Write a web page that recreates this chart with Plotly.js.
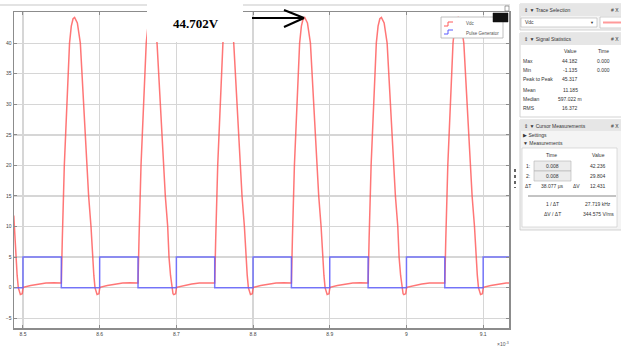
<!DOCTYPE html>
<html><head><meta charset="utf-8">
<script src="https://cdn.plot.ly/plotly-3.0.1.min.js"></script>
<style>html,body{margin:0;padding:0;background:#fff;}#chart{width:621px;height:350px;}</style>
</head><body><div id="chart"></div>
<script>
// ---- data (time in ms ×10^-3 s units, value in V) ----
const redTime = [
 8.4880, 8.4904, 8.4924, 8.4939, 8.4956, 8.4966, 8.4990, 8.5002, 8.5100, 8.5200, 8.5300, 8.5400,
 8.5500, 8.5513, 8.5526, 8.5539, 8.5556, 8.5572, 8.5587, 8.5607, 8.5630, 8.5653, 8.5673, 8.5709, 8.5748, 8.5770, 8.5791, 8.5806, 8.5830, 8.5856, 8.5887, 8.5904, 8.5924, 8.5939, 8.5956, 8.5966, 8.5990, 8.6002, 8.6100, 8.6200, 8.6300, 8.6400,
 8.6500, 8.6513, 8.6526, 8.6539, 8.6556, 8.6572, 8.6587, 8.6607, 8.6630, 8.6653, 8.6673, 8.6709, 8.6748, 8.6770, 8.6791, 8.6806, 8.6830, 8.6856, 8.6887, 8.6904, 8.6924, 8.6939, 8.6956, 8.6966, 8.6990, 8.7002, 8.7100, 8.7200, 8.7300, 8.7400,
 8.7500, 8.7513, 8.7526, 8.7539, 8.7556, 8.7572, 8.7587, 8.7607, 8.7630, 8.7653, 8.7673, 8.7709, 8.7748, 8.7770, 8.7791, 8.7806, 8.7830, 8.7856, 8.7887, 8.7904, 8.7924, 8.7939, 8.7956, 8.7966, 8.7990, 8.8002, 8.8100, 8.8200, 8.8300, 8.8400,
 8.8500, 8.8513, 8.8526, 8.8539, 8.8556, 8.8572, 8.8587, 8.8607, 8.8630, 8.8653, 8.8673, 8.8709, 8.8748, 8.8770, 8.8791, 8.8806, 8.8830, 8.8856, 8.8887, 8.8904, 8.8924, 8.8939, 8.8956, 8.8966, 8.8990, 8.9002, 8.9100, 8.9200, 8.9300, 8.9400,
 8.9500, 8.9513, 8.9526, 8.9539, 8.9556, 8.9572, 8.9587, 8.9607, 8.9630, 8.9653, 8.9673, 8.9709, 8.9748, 8.9770, 8.9791, 8.9806, 8.9830, 8.9856, 8.9887, 8.9904, 8.9924, 8.9939, 8.9956, 8.9966, 8.9990, 9.0002, 9.0100, 9.0200, 9.0300, 9.0400,
 9.0500, 9.0513, 9.0526, 9.0539, 9.0556, 9.0572, 9.0587, 9.0607, 9.0630, 9.0653, 9.0673, 9.0709, 9.0748, 9.0770, 9.0791, 9.0806, 9.0830, 9.0856, 9.0887, 9.0904, 9.0924, 9.0939, 9.0956, 9.0966, 9.0990, 9.1002, 9.1100, 9.1200, 9.1300, 9.1350
];
const redVdc = [
 11.8, 5, 2, 0, -1, -1.13, -1, 0.05, 0.35, 0.6, 0.75, 0.8,
 0.75, 8, 15, 20, 25, 30, 35, 40, 42.8, 44, 44.2, 43.3, 40, 35, 30, 25, 20, 15, 10, 5, 2, 0, -1, -1.13, -1, 0.05, 0.35, 0.6, 0.75, 0.8,
 0.75, 8, 15, 20, 25, 30, 35, 40, 42.8, 44, 44.2, 43.3, 40, 35, 30, 25, 20, 15, 10, 5, 2, 0, -1, -1.13, -1, 0.05, 0.35, 0.6, 0.75, 0.8,
 0.75, 8, 15, 20, 25, 30, 35, 40, 42.8, 44, 44.2, 43.3, 40, 35, 30, 25, 20, 15, 10, 5, 2, 0, -1, -1.13, -1, 0.05, 0.35, 0.6, 0.75, 0.8,
 0.75, 8, 15, 20, 25, 30, 35, 40, 42.8, 44, 44.2, 43.3, 40, 35, 30, 25, 20, 15, 10, 5, 2, 0, -1, -1.13, -1, 0.05, 0.35, 0.6, 0.75, 0.8,
 0.75, 8, 15, 20, 25, 30, 35, 40, 42.8, 44, 44.2, 43.3, 40, 35, 30, 25, 20, 15, 10, 5, 2, 0, -1, -1.13, -1, 0.05, 0.35, 0.6, 0.75, 0.8,
 0.75, 8, 15, 20, 25, 30, 35, 40, 42.8, 44, 44.2, 43.3, 40, 35, 30, 25, 20, 15, 10, 5, 2, 0, -1, -1.13, -1, 0.05, 0.35, 0.6, 0.75, 0.78
];
const pulseTime = [8.488, 8.50, 8.55, 8.60, 8.65, 8.70, 8.75, 8.80, 8.85, 8.90, 8.95, 9.00, 9.05, 9.10, 9.135];
const pulseLevel = [0, 5, 0, 5, 0, 5, 0, 5, 0, 5, 0, 5, 0, 5, 5];

const xTickVals = [8.5, 8.6, 8.7, 8.8, 8.9, 9.0, 9.1];
const xTickText = ['8.5', '8.6', '8.7', '8.8', '8.9', '9', '9.1'];
const yTickVals = [-5, 0, 5, 10, 15, 20, 25, 30, 35, 40];

const seriesNames = ['Vdc', 'Pulse Generator'];
const peakLabel = '44.702V';
const statRows = [['Max', '44.182', '0.000'], ['Min', '-1.135', '0.000'], ['Peak to Peak', '45.317', ''],
                  ['Mean', '11.185', ''], ['Median', '597.022 m', ''], ['RMS', '16.372', '']];

// ---- layout helpers (pixel -> paper) ----
const L = 14, T = 12, W = 495, H = 316;
const X = p => (p - L) / W;
const Y = p => (T + H - p) / H;
const shapes = [], ann = [];
function rect(x0, y0, x1, y1, fill, line, lw) {
  shapes.push({type: 'rect', xref: 'paper', yref: 'paper', x0: X(x0), x1: X(x1), y0: Y(y1), y1: Y(y0),
    fillcolor: fill, line: {color: line || 'rgba(0,0,0,0)', width: lw === undefined ? 1 : lw}, layer: 'above'});
}
function seg(x0, y0, x1, y1, color, w, dash) {
  shapes.push({type: 'line', xref: 'paper', yref: 'paper', x0: X(x0), x1: X(x1), y0: Y(y0), y1: Y(y1),
    line: {color: color, width: w, dash: dash || 'solid'}, layer: 'above'});
}
function txt(x, y, s, opts) {
  opts = opts || {};
  ann.push({xref: 'paper', yref: 'paper', x: X(x), y: Y(y), text: s, showarrow: false,
    xanchor: opts.anchor || 'left', yanchor: 'middle',
    font: {family: opts.family || 'Liberation Sans, Arial, sans-serif', size: opts.size || 5, color: opts.color || '#333'}});
}

// top frame line
seg(0, 5, 510, 5, '#c8c8c8', 1.2);
// peak annotation box + arrow
rect(147, -2, 243, 42, '#ffffff', null, 0);
txt(196, 24, '<b>' + peakLabel + '</b>', {anchor: 'center', family: 'Liberation Serif, Times New Roman, serif', size: 13, color: '#000'});
seg(252, 18, 304, 18, '#000', 2);
seg(304, 18, 284, 10, '#000', 2);
seg(304, 18, 284, 27, '#000', 2);

// legend
rect(441, 17, 503, 38, '#ffffff', '#b0b0b0', 0.8);
shapes.push({type: 'path', xref: 'paper', yref: 'paper', layer: 'above', line: {color: '#ff5a5a', width: 1},
  path: `M${X(444)},${Y(26)} L${X(448)},${Y(26)} L${X(448)},${Y(22)} L${X(453)},${Y(22)}`});
shapes.push({type: 'path', xref: 'paper', yref: 'paper', layer: 'above', line: {color: '#5a5aff', width: 1},
  path: `M${X(444)},${Y(34)} L${X(448)},${Y(34)} L${X(448)},${Y(30)} L${X(453)},${Y(30)}`});
txt(464, 24, seriesNames[0], {size: 4.5, color: '#555'});
txt(464, 33, seriesNames[1], {size: 4.5, color: '#555'});
rect(493, 13, 508, 22, '#111111', '#111', 0.5);
rect(505, 6, 509, 11, '#ffffff', '#666', 0.6);

// resize handle dots
seg(515, 169, 515, 188, '#333', 1.5, 'dot');

// ---- side panels ----
const PX0 = 520, PX1 = 630;
// Trace Selection
rect(PX0, 4, PX1, 30, '#f4f4f4', '#c8c8c8', 0.8);
rect(PX0, 4, PX1, 16, '#e6e6e6', null, 0);
txt(522, 10, '⇕ ▼ Trace Selection', {size: 5});
txt(621, 10, '# X', {size: 5, anchor: 'right'});
rect(521, 18, 597, 27, '#ffffff', '#b4b4b4', 0.6);
txt(523, 22.5, 'Vdc', {size: 5});
txt(592, 22.5, '▼', {size: 4, anchor: 'center'});
rect(600, 17, PX1, 28, '#ffffff', '#b4b4b4', 0.6);
seg(603, 22.5, 621, 22.5, '#ff9a9a', 2);
// Signal Statistics
rect(PX0, 33, PX1, 117, '#ffffff', '#c8c8c8', 0.8);
rect(PX0, 33, PX1, 45, '#e6e6e6', null, 0);
txt(522, 39, '⇕ ▼ Signal Statistics', {size: 5});
txt(621, 39, '# X', {size: 5, anchor: 'right'});
txt(570, 51, 'Value', {size: 5, anchor: 'center'});
txt(603, 51, 'Time', {size: 5, anchor: 'center'});
const rowY = [61, 70, 79, 90, 99, 108];
statRows.forEach((r, i) => {
  txt(521, rowY[i], r[0], {size: 5});
  txt(570, rowY[i], r[1], {size: 5, anchor: 'center'});
  if (r[2]) txt(603, rowY[i], r[2], {size: 5, anchor: 'center'});
});
// Cursor Measurements
rect(PX0, 120, PX1, 230, '#f4f4f4', '#c8c8c8', 0.8);
rect(PX0, 120, PX1, 131, '#e6e6e6', null, 0);
txt(522, 126, '⇕ ▼ Cursor Measurements', {size: 5});
txt(621, 126, '# X', {size: 5, anchor: 'right'});
txt(521, 134.5, '▶ Settings', {size: 5});
txt(521, 143, '▼ Measurements', {size: 5});
rect(522, 148, 617, 227, '#ffffff', '#c8c8c8', 0.6);
txt(551, 155, 'Time', {size: 5, anchor: 'center'});
txt(598, 155, 'Value', {size: 5, anchor: 'center'});
txt(524, 166, '1:', {size: 5});
rect(534, 161, 571, 171, '#ececec', '#b4b4b4', 0.6);
txt(552, 166, '0.008', {size: 5, anchor: 'center'});
txt(598, 166, '42.236', {size: 5, anchor: 'center'});
txt(524, 176, '2:', {size: 5});
rect(534, 171, 571, 181, '#ececec', '#b4b4b4', 0.6);
txt(552, 176, '0.008', {size: 5, anchor: 'center'});
txt(598, 176, '29.804', {size: 5, anchor: 'center'});
txt(523, 186, 'ΔT', {size: 5});
txt(552, 186, '38.077 μs', {size: 5, anchor: 'center'});
txt(576, 186, 'ΔV', {size: 5, anchor: 'center'});
txt(598, 186, '12.431', {size: 5, anchor: 'center'});
seg(528, 196, 616, 196, '#888', 1);
txt(552, 204, '1 / ΔT', {size: 5, anchor: 'center'});
txt(598, 204, '27.719 kHz', {size: 5, anchor: 'center'});
txt(552, 214, 'ΔV / ΔT', {size: 5, anchor: 'center'});
txt(598, 214, '344.575 V/ms', {size: 5, anchor: 'center'});

// x10^-3 exponent label
txt(503, 344, '×10<sup>-3</sup>', {size: 5, anchor: 'center', color: '#555'});

const traces = [
  {x: redTime, y: redVdc, name: seriesNames[0], type: 'scatter', mode: 'lines',
   line: {color: 'rgba(255,80,80,0.78)', width: 1.5}},
  {x: pulseTime, y: pulseLevel, name: seriesNames[1], type: 'scatter', mode: 'lines',
   line: {color: 'rgba(90,90,255,0.8)', width: 1.5, shape: 'hv'}}
];

const layout = {
  width: 621, height: 350,
  margin: {l: L, r: 621 - L - W, t: T, b: 350 - T - H, pad: 0},
  paper_bgcolor: '#ffffff', plot_bgcolor: '#ffffff',
  showlegend: false,
  xaxis: {range: [8.4883, 9.1337], tickvals: xTickVals, ticktext: xTickText,
    showgrid: true, gridcolor: '#d6d6d6', gridwidth: 1.3, zeroline: false,
    showline: true, linecolor: '#8c8c8c', linewidth: 1.5, mirror: 'ticks',
    ticks: 'inside', ticklen: 3, tickcolor: '#8c8c8c',
    tickfont: {family: 'Liberation Sans, Arial, sans-serif', size: 5, color: '#444'}},
  yaxis: {range: [-6.6, 45.1], tickvals: yTickVals,
    showgrid: true, gridcolor: '#d6d6d6', gridwidth: 1.3, zeroline: false,
    showline: true, linecolor: '#8c8c8c', linewidth: 1.5, mirror: 'ticks',
    ticks: 'inside', ticklen: 3, tickcolor: '#8c8c8c',
    tickfont: {family: 'Liberation Sans, Arial, sans-serif', size: 5, color: '#444'}},
  shapes: shapes,
  annotations: ann
};

Plotly.newPlot('chart', traces, layout, {staticPlot: true, displayModeBar: false});
</script>
</body></html>
